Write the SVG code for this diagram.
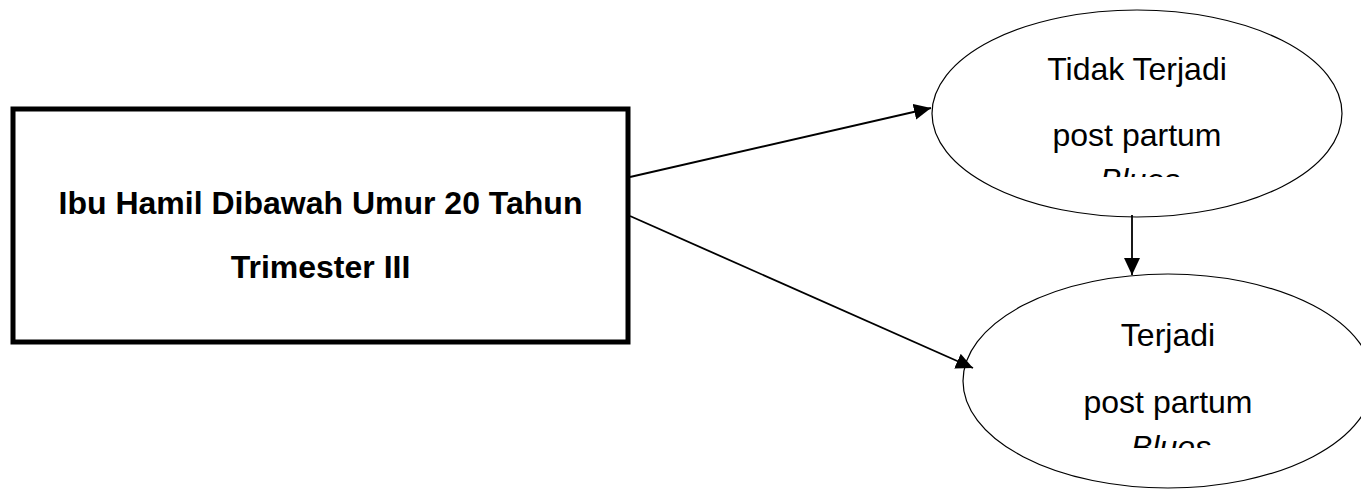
<svg xmlns="http://www.w3.org/2000/svg" width="1361" height="492" viewBox="0 0 1361 492">
<style>
.t{font-family:"Liberation Sans",Arial,sans-serif;font-size:32px;fill:#000;text-anchor:middle}
.b{font-weight:bold}
.i{font-style:italic}
.ell{fill:#fff;stroke:#000;stroke-width:1.2}
.con{stroke:#000;stroke-width:1.8;fill:none;marker-end:url(#ah)}
</style>
<defs>
<marker id="ah" markerUnits="userSpaceOnUse" markerWidth="18" markerHeight="16" refX="17" refY="8" orient="auto">
<path d="M0,0 L17,8 L0,16 Z" fill="#000"/>
</marker>
<clipPath id="c1"><rect x="900" y="0" width="461" height="177"/></clipPath>
<clipPath id="c2"><rect x="900" y="250" width="461" height="198"/></clipPath>
</defs>
<rect width="1361" height="492" fill="#fff"/>
<g id="box">
<rect x="13" y="109" width="615" height="233" fill="#fff" stroke="#000" stroke-width="5"/>
<text class="t b" x="320.5" y="214">Ibu Hamil Dibawah Umur 20 Tahun</text>
<text class="t b" x="320.5" y="278">Trimester III</text>
</g>
<g id="tidak">
<ellipse class="ell" cx="1137" cy="113.5" rx="205" ry="103.5"/>
<text class="t" x="1137" y="80">Tidak Terjadi</text>
<text class="t" x="1137" y="146">post partum</text>
<text class="t i" x="1140" y="191" clip-path="url(#c1)">Blues</text>
</g>
<g id="terjadi">
<ellipse class="ell" cx="1168" cy="381" rx="205" ry="107"/>
<text class="t" x="1168" y="346">Terjadi</text>
<text class="t" x="1168" y="413">post partum</text>
<text class="t i" x="1171" y="458" clip-path="url(#c2)">Blues</text>
</g>
<g id="connectors">
<line class="con" x1="630" y1="177" x2="931" y2="108"/>
<line class="con" x1="630" y1="216" x2="973" y2="368"/>
<line class="con" x1="1132" y1="215" x2="1132" y2="275"/>
</g>
</svg>
